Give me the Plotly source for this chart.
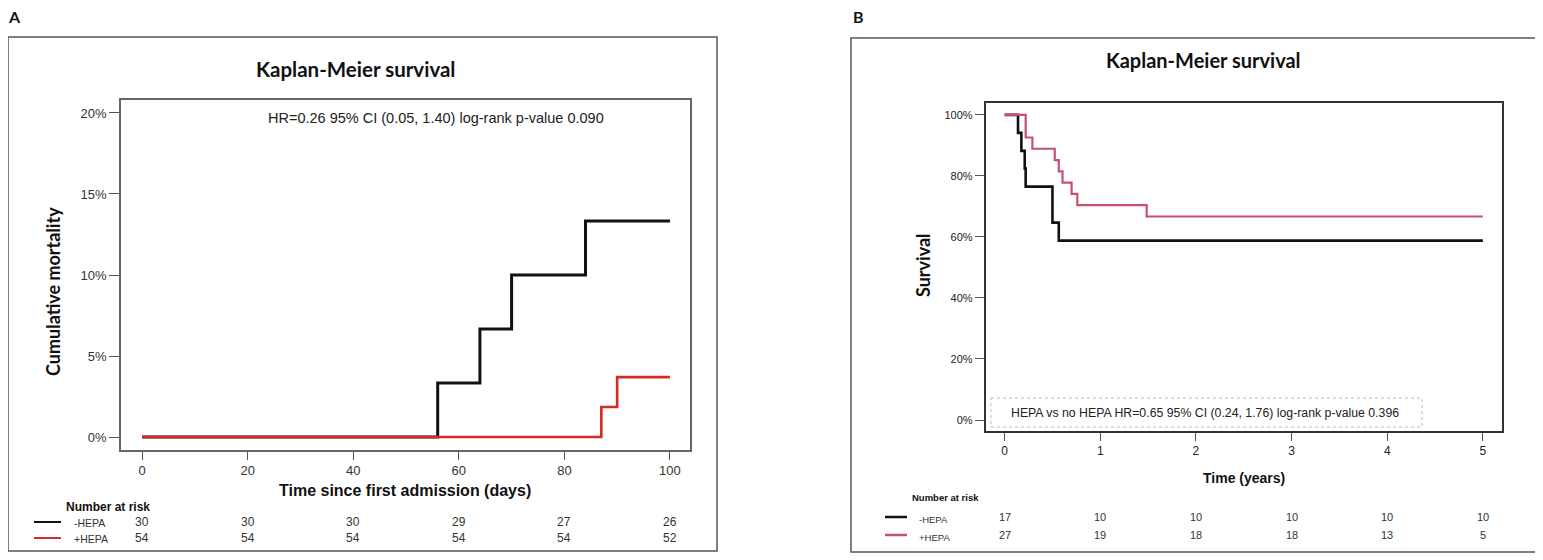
import plotly.graph_objects as go

# ---------------- data ----------------
# Panel A: cumulative mortality (%) vs days
a_minus_t = [0, 56, 64, 70, 84, 100]
a_minus_cm = [0, 3.33, 6.67, 10.0, 13.33, 13.33]
a_plus_t = [0, 87, 90, 100]
a_plus_cm = [0, 1.85, 3.70, 3.70]
a_xticks = [0, 20, 40, 60, 80, 100]
a_yticks = [0, 5, 10, 15, 20]
a_risk_minus = [30, 30, 30, 29, 27, 26]
a_risk_plus = [54, 54, 54, 54, 54, 52]

# Panel B: survival (%) vs years
b_minus_t = [0, 0.14, 0.175, 0.21, 0.22, 0.50, 0.566, 5.0]
b_minus_s = [100, 94.1, 88.2, 82.4, 76.5, 64.7, 58.8, 58.8]
b_plus_t = [0, 0.22, 0.29, 0.524, 0.566, 0.605, 0.70, 0.76, 1.485, 5.0]
b_plus_s = [100, 92.6, 88.9, 85.2, 81.5, 77.8, 74.1, 70.4, 66.7, 66.7]
b_xticks = [0, 1, 2, 3, 4, 5]
b_yticks = [0, 20, 40, 60, 80, 100]
b_risk_minus = [17, 10, 10, 10, 10, 10]
b_risk_plus = [27, 19, 18, 18, 13, 5]

groups = ["-HEPA", "+HEPA"]
title_text = "Kaplan-Meier survival"
a_note = "HR=0.26 95% CI (0.05, 1.40) log-rank p-value 0.090"
b_note = "HEPA vs no HEPA HR=0.65 95% CI (0.24, 1.76) log-rank p-value 0.396"

# ---------------- styling ----------------
OFF = 8  # page body margin
W, H = 1543 - OFF, 560 - OFF
BLACK = "#111111"
RED = "#d42a2a"
PINK = "#c8506e"
ARIAL = "Liberation Sans, Arial, sans-serif"
NARROW = "Liberation Sans Narrow, Arial Narrow, Liberation Sans, sans-serif"
CAL = "Lato, Carlito, Calibri, sans-serif"


def px(x):
    return (x - OFF) / W


def py(y):
    return 1 - (y - OFF) / H


fig = go.Figure()

# Panel A traces
fig.add_trace(go.Scatter(x=a_minus_t, y=a_minus_cm, mode="lines", line_shape="hv",
                         line=dict(color=BLACK, width=3), xaxis="x", yaxis="y", name=groups[0]))
fig.add_trace(go.Scatter(x=a_plus_t, y=a_plus_cm, mode="lines", line_shape="hv",
                         line=dict(color=RED, width=2.6), xaxis="x", yaxis="y", name=groups[1]))
# Panel B traces
fig.add_trace(go.Scatter(x=b_minus_t, y=b_minus_s, mode="lines", line_shape="hv",
                         line=dict(color=BLACK, width=2.6), xaxis="x2", yaxis="y2", name=groups[0]))
fig.add_trace(go.Scatter(x=b_plus_t, y=b_plus_s, mode="lines", line_shape="hv",
                         line=dict(color=PINK, width=2.2), xaxis="x2", yaxis="y2", name=groups[1]))

axis_common = dict(showgrid=False, zeroline=False, showline=True, mirror=True,
                   ticks="outside", tickcolor="#555", tickmode="array")

fig.update_layout(
    width=W, height=H, showlegend=False,
    paper_bgcolor="white", plot_bgcolor="white",
    margin=dict(l=0, r=0, t=0, b=0),
    xaxis=dict(domain=[px(121), px(690)], range=[-4, 103.8], tickvals=a_xticks,
               ticktext=[str(v) for v in a_xticks],
               ticklen=8, linecolor="#666", linewidth=1.5,
               tickfont=dict(family=ARIAL, size=13, color="#333"), anchor="y", **axis_common),
    yaxis=dict(domain=[py(450), py(100)], range=[-0.8, 20.8], tickvals=a_yticks,
               ticktext=[f"{v}%" for v in a_yticks], ticklen=10, linecolor="#666", linewidth=1.5,
               tickfont=dict(family=ARIAL, size=13, color="#333"), anchor="x", **axis_common),
    xaxis2=dict(domain=[px(985.5), px(1502)], range=[-0.2, 5.2], tickvals=b_xticks,
                ticktext=[str(v) for v in b_xticks],
                ticklen=8, linecolor="#333", linewidth=1.5,
                tickfont=dict(family=NARROW, size=12, color="#222"), anchor="y2", **axis_common),
    yaxis2=dict(domain=[py(431), py(103)], range=[-3.6, 103.9], tickvals=b_yticks,
                ticktext=[f"{v}%" for v in b_yticks], ticklen=9, linecolor="#333", linewidth=1.5,
                tickfont=dict(family=NARROW, size=11, color="#222"), anchor="x2", **axis_common),
)

shapes = []
ann = []


def note(text, x, y, font, xref="paper", xanchor="center", angle=0):
    ann.append(dict(text=text, x=x if xref != "paper" else px(x), y=py(y),
                    xref=xref, yref="paper", xanchor=xanchor, yanchor="middle",
                    textangle=angle, showarrow=False, font=font))


# outer frames
for (x0, y0, x1, y1) in [(8, 37, 717, 551), (851, 38, 1536, 552)]:
    shapes.append(dict(type="rect", xref="paper", yref="paper",
                       x0=px(x0), y0=py(y0), x1=px(x1), y1=py(y1),
                       line=dict(color="#555", width=1.5)))

# panel letters
note("<b>A</b>", 14, 17, dict(family=CAL, size=16, color="#111"))
note("<b>B</b>", 858, 17, dict(family=CAL, size=16, color="#111"))

# titles
note("<b>" + title_text + "</b>", 355, 69, dict(family=CAL, size=20.5, color="#111"))
note("<b>" + title_text + "</b>", 1203, 60, dict(family=CAL, size=20, color="#111"))

# axis titles
note("<b>Cumulative mortality</b>", 53, 292, dict(family=CAL, size=18, color="#111"), angle=-90)
note("<b>Time since first admission (days)</b>", 405, 490, dict(family=ARIAL, size=16, color="#111"))
note("<b>Survival</b>", 923, 265, dict(family=CAL, size=18, color="#111"), angle=-90)
note("<b>Time (years)</b>", 1244, 478, dict(family=NARROW, size=14, color="#111"))

# statistics notes
note(a_note, 436, 118, dict(family=ARIAL, size=14.5, color="#222"))
shapes.append(dict(type="rect", xref="paper", yref="paper",
                   x0=px(991), y0=py(398), x1=px(1422), y1=py(427),
                   line=dict(color="#bbbbbb", width=1, dash="dot")))
note(b_note, 1205, 413, dict(family=NARROW, size=12.3, color="#222"))

# ---------------- number at risk tables ----------------
# Panel A
note("<b>Number at risk</b>", 64, 507, dict(family=ARIAL, size=12, color="#111"), xanchor="left")
rowsA = [(522, BLACK, a_risk_minus), (538, RED, a_risk_plus)]
for (yy, col, vals), g in zip(rowsA, groups):
    shapes.append(dict(type="line", xref="paper", yref="paper", x0=px(34), x1=px(61),
                       y0=py(yy), y1=py(yy), line=dict(color=col, width=2)))
    note(g, 72, yy + 1, dict(family=NARROW, size=10.5, color="#333"), xanchor="left")
    for xv, v in zip(a_xticks, vals):
        note(str(v), xv, yy, dict(family=ARIAL, size=12, color="#333"), xref="x")

# Panel B
note("<b>Number at risk</b>", 910, 497, dict(family=NARROW, size=9.5, color="#111"), xanchor="left")
rowsB = [(517, BLACK, b_risk_minus), (535, PINK, b_risk_plus)]
for (yy, col, vals), g in zip(rowsB, groups):
    shapes.append(dict(type="line", xref="paper", yref="paper", x0=px(885), x1=px(907),
                       y0=py(yy), y1=py(yy), line=dict(color=col, width=2.5)))
    note(g, 917, yy + 2, dict(family=NARROW, size=9.5, color="#333"), xanchor="left")
    for xv, v in zip(b_xticks, vals):
        note(str(v), xv, yy, dict(family=NARROW, size=11, color="#333"), xref="x2")

fig.update_layout(shapes=shapes, annotations=ann)
fig.write_html("out.html")
